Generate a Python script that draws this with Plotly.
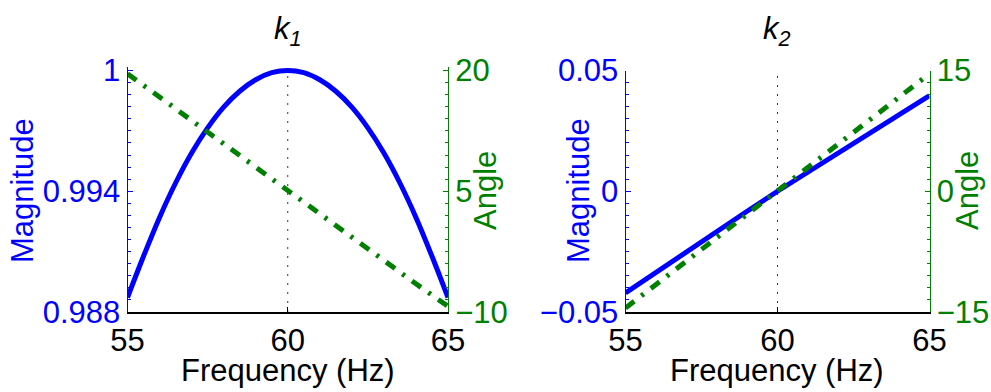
import plotly.graph_objects as go

# ---- data ----
freq = [55, 56, 57, 58, 59, 60, 61, 62, 63, 64, 65]
freq_fine = [55, 55.5, 56, 56.5, 57, 57.5, 58, 58.5, 59, 59.5, 60,
             60.5, 61, 61.5, 62, 62.5, 63, 63.5, 64, 64.5, 65]
k1_mag = [0.98872, 0.99077, 0.99270, 0.99441, 0.99590, 0.99715, 0.99818, 0.99897, 0.99954, 0.99989, 1.0,
          0.99989, 0.99954, 0.99897, 0.99818, 0.99715, 0.99590, 0.99441, 0.99270, 0.99077, 0.98872]
k1_ang = [19.6, 16.7, 13.8, 10.8, 7.9, 5.0, 2.1, -0.8, -3.6, -6.5, -9.3]
k2_mag = [-0.0421, -0.0335, -0.0251, -0.0167, -0.0083, 0.0, 0.0080, 0.0160, 0.0240, 0.0318, 0.0396]
k2_ang = [-14.5, -11.6, -8.7, -5.8, -2.9, 0.0, 2.9, 5.9, 8.8, 11.7, 14.6]

x_ticks = [55, 60, 65]
k1_mag_ticks = [0.988, 0.994, 1.0]
k1_mag_text = ["0.988", "0.994", "1"]
k1_ang_ticks = [-10, 5, 20]
k2_mag_ticks = [-0.05, 0, 0.05]
k2_mag_text = ["\u22120.05", "0", "0.05"]
k2_ang_ticks = [-15, 0, 15]
marker_freq = 60

BLUE = "#0000FF"
GREEN = "#008000"
FONT = "Liberation Sans, Arial, sans-serif"
FS = 31
DASHDOT = "11px,9px,3px,9px"

fig = go.Figure()
fig.add_trace(go.Scatter(x=freq_fine, y=k1_mag, xaxis="x", yaxis="y", mode="lines",
                         line=dict(color=BLUE, width=5, shape="spline", smoothing=1), showlegend=False))
fig.add_trace(go.Scatter(x=freq, y=k1_ang, xaxis="x", yaxis="y2", mode="lines",
                         line=dict(color=GREEN, width=5, dash=DASHDOT), showlegend=False))
fig.add_trace(go.Scatter(x=freq, y=k2_mag, xaxis="x2", yaxis="y3", mode="lines",
                         line=dict(color=BLUE, width=5), showlegend=False))
fig.add_trace(go.Scatter(x=freq, y=k2_ang, xaxis="x2", yaxis="y4", mode="lines",
                         line=dict(color=GREEN, width=5, dash=DASHDOT), showlegend=False))

# left panel: axis extends a few px above the top tick (as in the reference) so the peak isn't clipped
PX_TOP, PX_BOT, PX_EXT = 70.5, 312.0, 4.0
yd = [1 - PX_BOT / 392, 1 - PX_TOP / 392]
yd1 = [1 - PX_BOT / 392, 1 - (PX_TOP - PX_EXT) / 392]
ext = PX_EXT / (PX_BOT - PX_TOP)
xd1 = [127.5 / 991, 448 / 991]
xd2 = [625.5 / 991, 929.5 / 991]

def xaxis(dom, anchor):
    return dict(domain=dom, anchor=anchor, range=[55, 65], tickmode="array", tickvals=x_ticks,
                ticks="inside", ticklen=5, tickcolor="black", showline=True, linecolor="black",
                linewidth=1.5, showgrid=False, zeroline=False, automargin=False,
                tickfont=dict(family=FONT, size=FS, color="black"))

def yaxis(dom, anchor, rng, tv, tt, color, minor_dt, side="left", overlaying=None, extend=0.0):
    span = rng[1] - rng[0]
    d = dict(domain=dom, anchor=anchor, range=[rng[0], rng[1] + span * extend],
             tickmode="array", tickvals=tv,
             ticks="inside", ticklen=5, tickcolor=color, showline=True, linecolor=color,
             linewidth=1, showgrid=False, zeroline=False, side=side, automargin=False,
             tickfont=dict(family=FONT, size=FS, color=color),
             minor=dict(ticks="inside", ticklen=3, tick0=rng[0], dtick=minor_dt, tickcolor=color))
    if tt is not None:
        d["ticktext"] = tt
    if overlaying:
        d["overlaying"] = overlaying
    return d

fig.update_layout(
    template="none",
    width=991, height=392, margin=dict(l=0, r=0, t=0, b=0, pad=0),
    paper_bgcolor="white", plot_bgcolor="white",
    xaxis=xaxis(xd1, "y"),
    xaxis2=xaxis(xd2, "y3"),
    yaxis=yaxis(yd1, "x", [0.988, 1.0], k1_mag_ticks, k1_mag_text, BLUE, 0.0006, extend=ext),
    yaxis2=yaxis(yd1, "x", [-10, 20], k1_ang_ticks, None, GREEN, 1.5, side="right", overlaying="y", extend=ext),
    yaxis3=yaxis(yd, "x2", [-0.05, 0.05], k2_mag_ticks, k2_mag_text, BLUE, 0.005),
    yaxis4=yaxis(yd, "x2", [-15, 15], k2_ang_ticks, None, GREEN, 1.5, side="right", overlaying="y3"),
)

fig.add_shape(type="line", xref="x", yref="y", x0=marker_freq, x1=marker_freq,
              y0=k1_mag_ticks[0], y1=k1_mag_ticks[-1],
              line=dict(color="#333333", width=1, dash="2px,7px"), layer="below")
fig.add_shape(type="line", xref="x2", yref="y3 domain", x0=marker_freq, x1=marker_freq,
              y0=0, y1=1, line=dict(color="#333333", width=1, dash="2px,7px"), layer="below")

ann = []
def txt(x, y, s, color="black", angle=0):
    ann.append(dict(text=s, x=x, y=y, xref="paper", yref="paper", showarrow=False,
                    textangle=angle, xanchor="center", yanchor="middle",
                    font=dict(family=FONT, size=FS, color=color)))

midy = 1 - 191 / 392
txt(288 / 991, 1 - 31 / 392, "<i>k<sub>1</sub></i>")
txt(777 / 991, 1 - 31 / 392, "<i>k<sub>2</sub></i>")
txt(288 / 991, 1 - 370 / 392, "Frequency (Hz)")
txt(777 / 991, 1 - 370 / 392, "Frequency (Hz)")
txt(22 / 991, midy, "Magnitude", BLUE, -90)
txt(485 / 991, midy, "Angle", GREEN, -90)
txt(578 / 991, midy, "Magnitude", BLUE, -90)
txt(967 / 991, midy, "Angle", GREEN, -90)
fig.update_layout(annotations=ann)

fig.write_html("out.html")
